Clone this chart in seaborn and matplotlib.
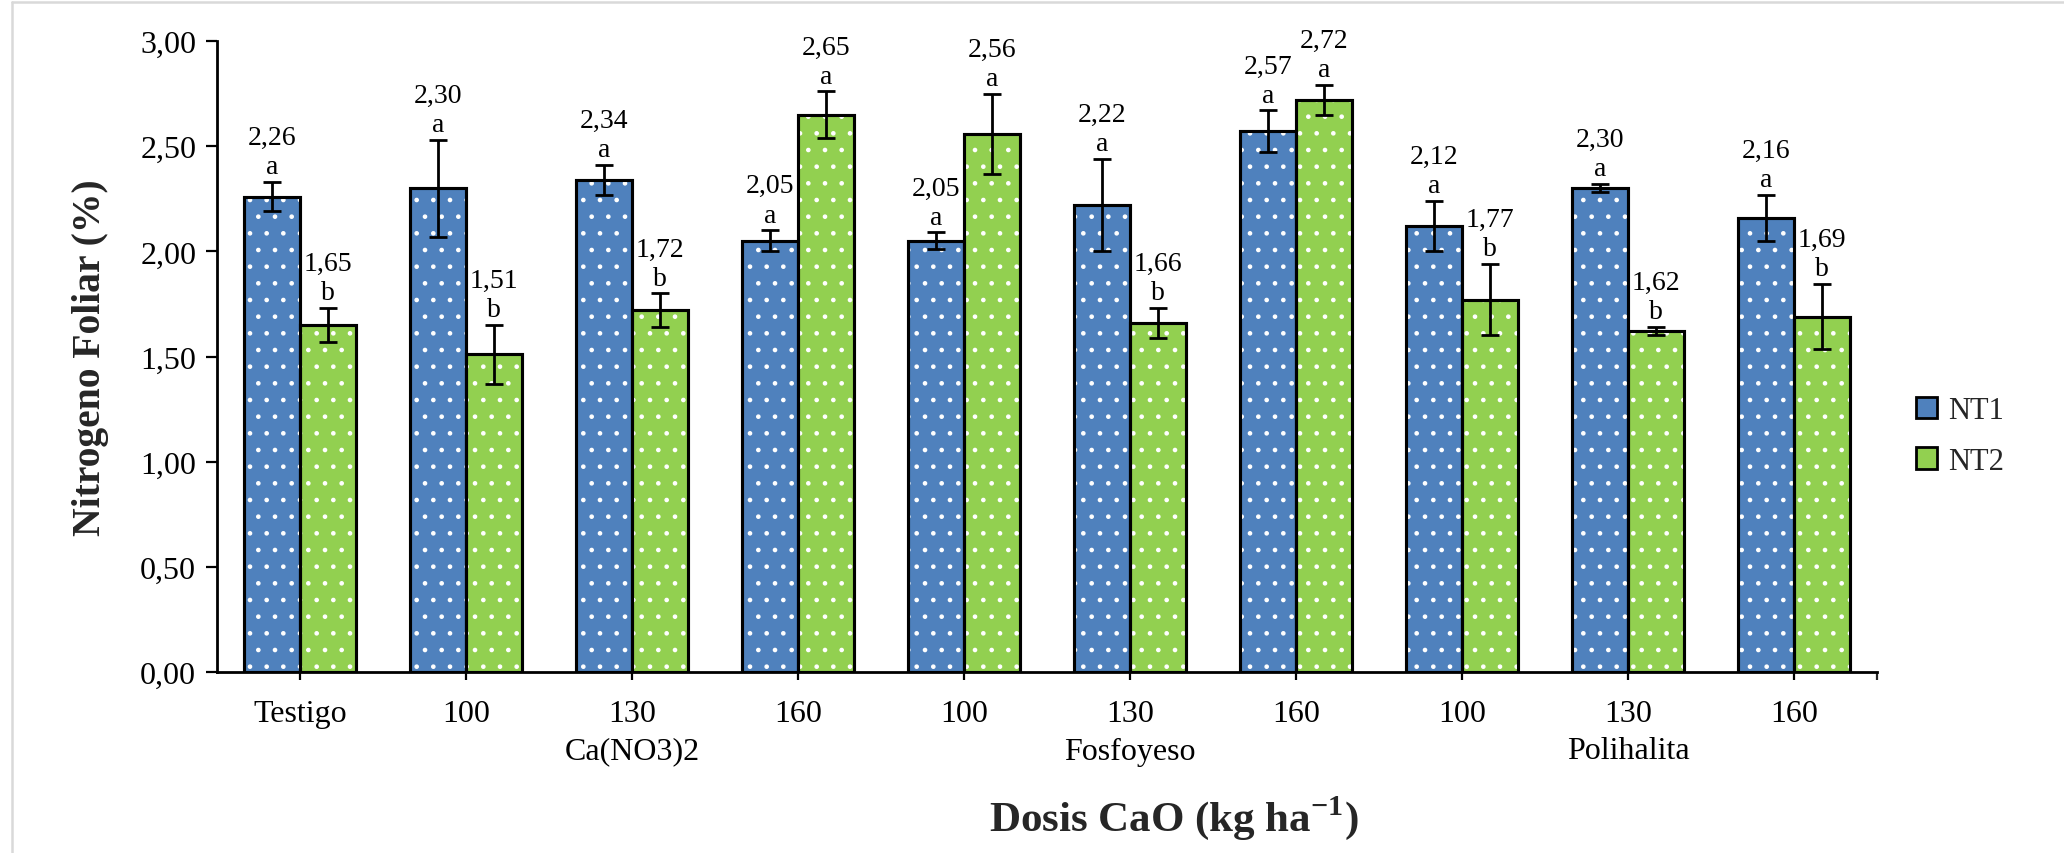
import matplotlib
matplotlib.use("Agg")
import matplotlib.pyplot as plt
import matplotlib.patches as mpatches
from matplotlib.lines import Line2D
import seaborn as sns
import pandas as pd

# ---- data ----
categories = ["Testigo", "Ca(NO3)2 100", "Ca(NO3)2 130", "Ca(NO3)2 160",
              "Fosfoyeso 100", "Fosfoyeso 130", "Fosfoyeso 160",
              "Polihalita 100", "Polihalita 130", "Polihalita 160"]
tick_labels = ["Testigo", "100", "130", "160", "100", "130", "160", "100", "130", "160"]
group_labels = ["Ca(NO3)2", "Fosfoyeso", "Polihalita"]
group_centers = [2, 5, 8]
series_names = ["NT1", "NT2"]
nt1 = [2.26, 2.30, 2.34, 2.05, 2.05, 2.22, 2.57, 2.12, 2.30, 2.16]
nt2 = [1.65, 1.51, 1.72, 2.65, 2.56, 1.66, 2.72, 1.77, 1.62, 1.69]
nt1_err = [0.07, 0.23, 0.07, 0.05, 0.04, 0.22, 0.10, 0.12, 0.02, 0.11]
nt2_err = [0.08, 0.14, 0.08, 0.11, 0.19, 0.07, 0.07, 0.17, 0.02, 0.155]
nt1_letters = ["a"] * 10
nt2_letters = ["b", "b", "b", "a", "a", "b", "a", "b", "b", "b"]
yticks = [0, 0.5, 1.0, 1.5, 2.0, 2.5, 3.0]
ytick_labels = ["0,00", "0,50", "1,00", "1,50", "2,00", "2,50", "3,00"]
colors = ["#4F81BD", "#92D050"]

sns.set_theme(style="white")
plt.rcParams["font.family"] = ["Liberation Serif", "DejaVu Serif"]
plt.rcParams["mathtext.fontset"] = "custom"
plt.rcParams["mathtext.rm"] = "Liberation Serif"
plt.rcParams["mathtext.bf"] = "Liberation Serif:bold"
plt.rcParams["hatch.linewidth"] = 0.9

df = pd.DataFrame({
    "cat": categories * 2,
    "val": nt1 + nt2,
    "serie": [series_names[0]] * 10 + [series_names[1]] * 10,
})

fig = plt.figure(figsize=(20.64, 8.54), dpi=100)
ax = fig.add_axes([217 / 2064, 1 - 673 / 854, 1660 / 2064, 631 / 854])

sns.barplot(data=df, x="cat", y="val", hue="serie", order=categories,
            hue_order=series_names, palette=colors, width=0.675,
            edgecolor="black", linewidth=2.2, saturation=1, errorbar=None,
            legend=False, ax=ax)

errs = [nt1_err, nt2_err]
vals = [nt1, nt2]
letters = [nt1_letters, nt2_letters]
bar_containers = list(ax.containers)
for k, cont in enumerate(bar_containers):
    bars = sorted(list(cont.patches), key=lambda b: b.get_x())
    xs = []
    for bar in bars:
        ov = mpatches.Rectangle((bar.get_x(), bar.get_y()), bar.get_width(), bar.get_height(),
                                facecolor="none", edgecolor="white", linewidth=0, hatch=".",
                                zorder=bar.get_zorder() + 0.1)
        ax.add_patch(ov)
        bd = mpatches.Rectangle((bar.get_x(), bar.get_y()), bar.get_width(), bar.get_height(),
                                facecolor="none", edgecolor="black", linewidth=2.2,
                                zorder=bar.get_zorder() + 0.2)
        ax.add_patch(bd)
        xs.append(bar.get_x() + bar.get_width() / 2)
    ax.errorbar(xs, vals[k], yerr=errs[k], fmt="none", ecolor="black",
                elinewidth=2.0, capsize=6.5, capthick=2.0, zorder=5)
    for x, v, e, let in zip(xs, vals[k], errs[k], letters[k]):
        ax.annotate(let, (x, v + e), xytext=(0, 11), textcoords="offset points",
                    ha="center", va="center", fontsize=20, color="black")
        ax.annotate(f"{v:.2f}".replace(".", ","), (x, v + e), xytext=(0, 32),
                    textcoords="offset points", ha="center", va="center",
                    fontsize=20, color="black")

ax.set_ylim(0, 3.0)
ax.set_xlim(-0.5, len(categories) - 0.5)
ax.set_yticks(yticks)
ax.set_yticklabels(ytick_labels)
ax.set_xticks(range(len(categories)))
ax.set_xticklabels(tick_labels)
ax.set_xticks([len(categories) - 0.5], minor=True)
ax.tick_params(axis="y", which="major", direction="out", length=8, width=1.6,
               pad=7, labelsize=23, colors="black", left=True)
ax.tick_params(axis="x", which="major", direction="out", length=5.5, width=1.6,
               pad=14, labelsize=23, colors="black", bottom=True)
ax.tick_params(axis="x", which="minor", direction="out", length=5.5, width=1.6,
               bottom=True)
for s in ["top", "right"]:
    ax.spines[s].set_visible(False)
for s in ["left", "bottom"]:
    ax.spines[s].set_color("black")
    ax.spines[s].set_linewidth(2.0)

ax.set_xlabel(r"Dosis CaO (kg ha$^{\mathbf{-1}}$)", fontsize=31, fontweight="bold",
              va="center")
ax.xaxis.set_label_coords((1174 - 217) / 1660, -(818 - 673) / 631)
ax.set_ylabel("Nitrogeno Foliar (%)", fontsize=28.5, fontweight="bold", va="center")
ax.yaxis.set_label_coords((91 - 217) / 1660, 0.5)

for gx, gl in zip(group_centers, group_labels):
    ax.text(gx, -(752 - 673) / 631, gl, transform=ax.get_xaxis_transform(),
            ha="center", va="center", fontsize=23, color="black")

handles = [mpatches.Patch(facecolor=c, edgecolor="black", linewidth=2.0) for c in colors]
fig.legend(handles, series_names, loc="center left",
           bbox_to_anchor=(1916 / 2064, 1 - 437 / 854), frameon=False,
           fontsize=22, handlelength=0.7, handleheight=0.7,
           handletextpad=0.35, labelspacing=0.7, borderpad=0, borderaxespad=0)

fig.add_artist(Line2D([12 / 2064, 12 / 2064], [0, 1 - 3 / 854], color="#d9d9d9",
                      linewidth=1.8, transform=fig.transFigure))
fig.add_artist(Line2D([12 / 2064, 1], [1 - 3 / 854, 1 - 3 / 854], color="#d9d9d9",
                      linewidth=1.8, transform=fig.transFigure))

fig.savefig("out.png", dpi=100)
